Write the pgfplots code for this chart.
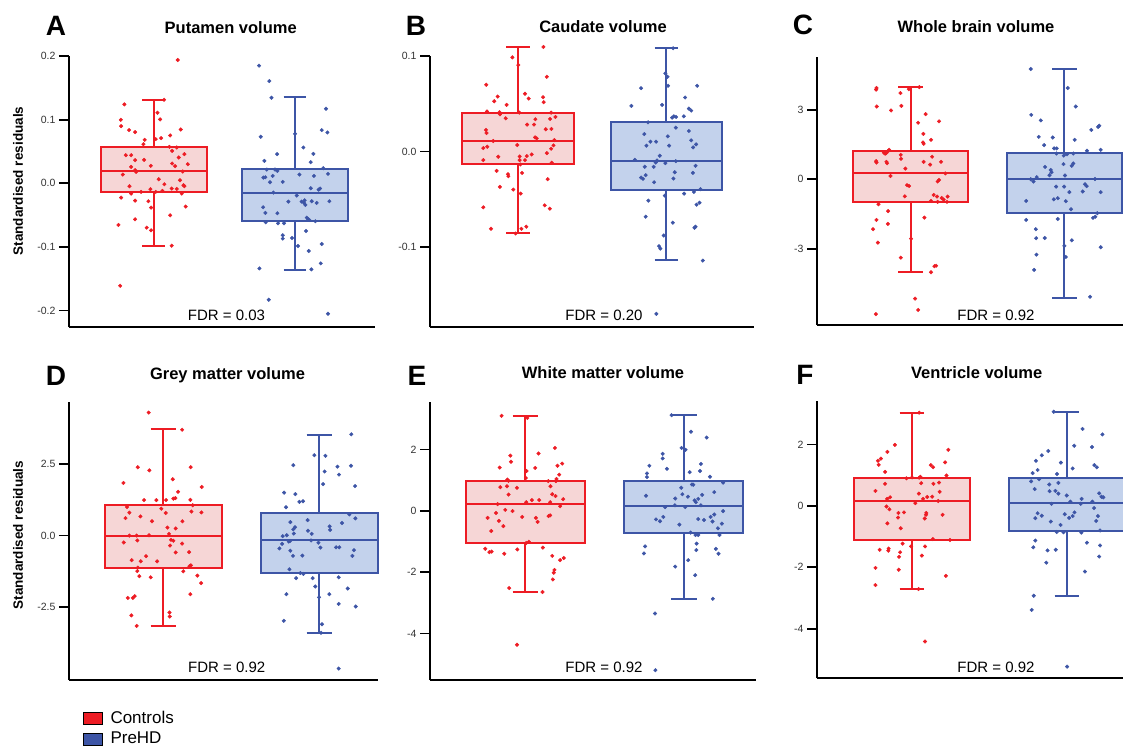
\documentclass[border=0pt]{standalone}
\usepackage{fontspec}
\setmainfont{Liberation Sans}
\usepackage{pgfplots}
\pgfplotsset{compat=1.18}
\usepgfplotslibrary{statistics}

\definecolor{cred}{RGB}{237,28,36}
\definecolor{credfill}{RGB}{246,214,214}
\definecolor{cblue}{RGB}{61,85,166}
\definecolor{cbluefill}{RGB}{195,210,236}

\pgfplotsset{
  panel/.style={scale only axis, anchor=south west,
    axis x line=bottom, axis y line=left,
    axis line style={-, line width=1.8pt, black},
    xtick=\empty, tick align=outside, major tick length=10pt,
    tick style={line width=1.8pt, black},
    yticklabel style={font=\fontsize{10.5}{12}\selectfont, text=black!80},
    clip=false, boxplot/draw direction=y,
    boxplot/box extend=0.75, boxplot/whisker extend=0.16,
    boxplot/every median/.style={line width=2pt}},
  rbox/.style={draw=cred, fill=credfill, line width=2pt},
  bbox/.style={draw=cblue, fill=cbluefill, line width=2pt},
  rpts/.style={only marks, mark=*, mark size=1.8pt, color=cred},
  bpts/.style={only marks, mark=*, mark size=1.8pt, color=cblue},
}
\newcommand{\ttl}{\fontsize{16.5}{19}\selectfont\bfseries}
\newcommand{\lbl}{\fontsize{28}{32}\selectfont\bfseries}
\newcommand{\fdr}{\fontsize{15}{18}\selectfont}

\begin{document}
\begin{tikzpicture}
\useasboundingbox (0pt,0pt) rectangle (1123pt,-751pt);

% ---------- A: putamen
\begin{axis}[panel, at={(69pt,-327pt)}, width=306pt, height=271pt,
  xmin=0.40, xmax=2.566, ymin=-0.226, ymax=0.2,
  ytick={-0.2,-0.1,0,0.1,0.2}, yticklabels={-0.2,-0.1,0.0,0.1,0.2}]
\addplot[rbox, boxplot prepared={draw position=1, lower whisker=-0.099, lower quartile=-0.014, median=0.019, upper quartile=0.057, upper whisker=0.131}] coordinates {};
\addplot[bbox, boxplot prepared={draw position=2, lower whisker=-0.137, lower quartile=-0.060, median=-0.016, upper quartile=0.0216, upper whisker=0.136}] coordinates {};
\addplot[rpts] coordinates {
(1.170,0.1937) (0.792,0.1239) (0.767,0.0997) (0.769,0.0898) (0.825,0.0835) (0.868,0.0803)
(1.073,0.1312) (1.026,0.1108) (1.045,0.1003) (1.191,0.0845) (1.116,0.0751) (1.052,0.0709)
(1.014,0.0693) (0.936,0.0682) (0.927,0.0614) (0.802,0.0441) (0.840,0.0441) (0.932,0.0367)
(0.868,0.0362) (0.979,0.0273) (0.840,0.0257) (0.868,0.0205) (0.875,0.0178) (0.781,0.0136)
(1.111,0.0572) (1.163,0.0562) (1.130,0.0509) (1.217,0.0457) (1.177,0.0404) (1.241,0.0299)
(1.130,0.0310) (1.151,0.0268) (1.205,0.0184) (1.035,0.0063) (1.186,0.0047) (1.075,-0.0016)
(0.828,-0.0047) (1.210,-0.0031) (1.217,-0.0047) (1.127,-0.0084) (1.163,-0.0089) (0.976,-0.0094)
(1.014,-0.0136) (1.061,-0.0121) (0.910,-0.0136) (0.840,-0.0163) (1.198,-0.0163) (0.769,-0.0226)
(0.868,-0.0273) (0.962,-0.0283) (1.226,-0.0367) (0.981,-0.0383) (1.116,-0.0504) (0.868,-0.0567)
(0.750,-0.0656) (0.950,-0.0698) (0.981,-0.0740) (1.127,-0.0982) (0.762,-0.1612)};
\addplot[bpts] coordinates {
(1.745,0.1848) (1.818,0.1606) (1.833,0.1344) (2.219,0.1171) (2.189,0.0835) (2.229,0.0798)
(1.757,0.0730) (2.000,0.0777) (2.059,0.0562) (2.130,0.0462) (1.873,0.0457) (1.783,0.0352)
(2.111,0.0331) (2.200,0.0236) (1.800,0.0215) (1.858,0.0215) (1.875,0.0194) (2.031,0.0136)
(2.134,0.0115) (2.233,0.0147) (1.776,0.0089) (1.790,0.0094) (1.842,0.0115) (1.823,0.0016)
(1.913,0.0021) (2.177,-0.0084) (2.167,-0.0100) (2.111,-0.0079) (1.847,-0.0147) (2.012,-0.0194)
(1.953,-0.0289) (2.047,-0.0289) (2.064,-0.0310) (2.073,-0.0341) (2.068,-0.0268) (2.118,-0.0283)
(2.153,-0.0310) (2.243,-0.0283) (1.774,-0.0378) (1.790,-0.0467) (1.875,-0.0472) (2.094,-0.0567)
(2.083,-0.0541) (2.101,-0.0577) (2.144,-0.0598) (1.792,-0.0614) (1.880,-0.0630) (1.922,-0.0630)
(2.078,-0.0751) (1.913,-0.0819) (1.913,-0.0871) (1.979,-0.0861) (2.021,-0.0987) (2.097,-0.1066)
(2.189,-0.0955) (1.748,-0.1339) (2.116,-0.1354) (2.182,-0.1260) (1.814,-0.1832) (2.233,-0.2052)};
\end{axis}

% ---------- B: caudate
\begin{axis}[panel, at={(430pt,-327pt)}, width=324pt, height=271pt,
  xmin=0.407, xmax=2.59, ymin=-0.184, ymax=0.1,
  ytick={-0.1,0,0.1}, yticklabels={-0.1,0.0,0.1}]
\addplot[rbox, boxplot prepared={draw position=1, lower whisker=-0.0856, lower quartile=-0.0137, median=0.0105, upper quartile=0.0404, upper whisker=0.109}] coordinates {};
\addplot[bbox, boxplot prepared={draw position=2, lower whisker=-0.114, lower quartile=-0.0407, median=-0.0098, upper quartile=0.0312, upper whisker=0.108}] coordinates {};
\addplot[rpts] coordinates {
(1.171,0.1095) (0.962,0.0986) (1.002,0.0905) (1.194,0.0782) (0.786,0.0698) (1.047,0.0604)
(0.863,0.0575) (1.072,0.0554) (1.169,0.0568) (0.840,0.0526) (1.173,0.0516) (0.923,0.0488)
(0.791,0.0418) (0.876,0.0411) (0.878,0.0389) (1.009,0.0407) (1.223,0.0407) (0.917,0.0347)
(1.252,0.0361) (1.216,0.0340) (1.117,0.0337) (1.061,0.0281) (1.108,0.0281) (1.187,0.0232)
(1.225,0.0235) (0.784,0.0225) (0.788,0.0193) (1.115,0.0147) (1.126,0.0137) (0.833,0.0109)
(1.245,0.0119) (0.995,0.0067) (1.239,0.0063) (0.793,0.0049) (0.766,0.0035) (1.223,0.0028)
(1.194,-0.0018) (1.092,-0.0032) (0.867,-0.0056) (1.011,-0.0053) (1.059,-0.0049) (1.011,-0.0091)
(0.766,-0.0091) (1.047,-0.0091) (1.227,-0.0119) (1.016,-0.0137) (0.856,-0.0204) (1.027,-0.0225)
(0.932,-0.0239) (0.935,-0.0260) (1.200,-0.0291) (0.878,-0.0372) (0.968,-0.0400) (1.018,-0.0442)
(1.180,-0.0565) (1.214,-0.0600) (0.766,-0.0586) (0.818,-0.0811) (0.984,-0.0860) (1.023,-0.0811)
(1.056,-0.0789)};
\addplot[bpts] coordinates {
(2.045,0.1081) (1.993,0.0818) (2.007,0.0782) (2.011,0.0688) (1.829,0.0663) (2.207,0.0688)
(2.126,0.0565) (1.971,0.0488) (1.764,0.0477) (2.151,0.0449) (2.167,0.0428) (2.117,0.0368)
(2.038,0.0354) (2.050,0.0368) (2.065,0.0361) (1.876,0.0305) (2.063,0.0249) (2.151,0.0214)
(1.851,0.0182) (2.009,0.0158) (2.167,0.0116) (1.892,0.0102) (1.930,0.0102) (2.200,0.0074)
(1.865,0.0060) (2.018,0.0060) (2.180,0.0042) (1.955,-0.0046) (1.788,-0.0088) (1.937,-0.0095)
(1.928,-0.0116) (2.063,-0.0102) (1.854,-0.0161) (1.993,-0.0123) (1.914,-0.0161) (2.196,-0.0151)
(2.056,-0.0218) (2.178,-0.0225) (1.860,-0.0249) (1.829,-0.0274) (1.842,-0.0288) (2.047,-0.0284)
(1.917,-0.0323) (2.230,-0.0396) (2.185,-0.0425) (2.119,-0.0442) (1.989,-0.0463) (1.878,-0.0516)
(2.223,-0.0537) (2.203,-0.0558) (1.860,-0.0684) (2.043,-0.0747) (2.196,-0.0789) (2.189,-0.0800)
(1.982,-0.0881) (1.950,-0.0993) (1.959,-0.1018) (2.245,-0.1144) (1.932,-0.1702)};
\end{axis}

% ---------- C: whole brain
\begin{axis}[panel, at={(817pt,-325pt)}, width=333pt, height=268pt,
  xmin=0.39, xmax=2.557, ymin=-6.30, ymax=5.28,
  ytick={-3,0,3}, yticklabels={-3,0,3}]
\addplot[rbox, boxplot prepared={draw position=1, lower whisker=-4.02, lower quartile=-0.98, median=0.26, upper quartile=1.24, upper whisker=3.98}] coordinates {};
\addplot[bbox, boxplot prepared={draw position=2, lower whisker=-5.12, lower quartile=-1.47, median=0.03, upper quartile=1.15, upper whisker=4.76}] coordinates {};
\addplot[rpts] coordinates {
(0.777,3.94) (0.775,3.87) (1.056,3.98) (0.987,3.89) (0.933,3.72) (0.779,3.14) (0.939,3.17)
(0.872,2.97) (1.097,2.81) (1.184,2.50) (1.048,2.44) (1.082,1.96) (1.080,1.59) (1.084,1.53)
(1.132,1.70) (0.825,1.15) (0.840,1.13) (0.851,1.20) (0.859,1.27) (0.833,1.10) (0.935,1.05)
(0.937,0.88) (1.139,0.97) (0.775,0.78) (0.777,0.72) (0.842,0.75) (0.846,0.69) (1.084,0.75)
(1.126,0.63) (1.197,0.75) (0.965,0.46) (1.225,0.25) (0.868,0.14) (1.184,-0.03) (1.175,-0.10)
(0.976,-0.26) (0.989,-0.29) (1.149,-0.68) (0.961,-0.74) (1.171,-0.75) (1.201,-0.81) (1.240,-0.75)
(1.214,-0.88) (1.132,-0.94) (1.175,-0.98) (1.236,-0.98) (0.790,-1.08) (0.853,-1.38) (1.089,-1.66)
(0.777,-1.76) (0.851,-1.93) (0.755,-2.16) (1.002,-2.57) (0.786,-2.74) (0.935,-3.39) (1.154,-3.76)
(1.165,-3.74) (1.132,-4.02) (1.028,-5.16) (1.048,-5.65) (0.773,-5.83)};
\addplot[bpts] coordinates {
(1.781,4.76) (2.022,3.94) (2.074,3.14) (1.784,2.78) (1.846,2.54) (2.175,2.13) (2.227,2.31)
(2.219,2.26) (1.833,1.83) (1.924,1.80) (2.067,1.70) (1.868,1.47) (1.933,1.33) (1.950,1.33)
(2.236,1.27) (1.948,1.11) (1.996,1.02) (2.017,1.08) (2.058,1.11) (2.147,1.23) (2.058,0.68)
(1.994,0.65) (2.048,0.58) (1.874,0.53) (1.911,0.40) (1.916,0.30) (1.903,0.17) (2.004,0.16)
(1.820,0.09) (1.781,0.00) (1.799,-0.10) (2.199,0.01) (2.134,-0.22) (2.145,-0.30) (1.946,-0.32)
(1.998,-0.32) (2.032,-0.56) (2.119,-0.53) (2.236,-0.56) (1.931,-0.87) (1.957,-0.82) (2.009,-0.95)
(1.751,-0.94) (2.043,-1.30) (2.214,-1.47) (2.201,-1.62) (2.186,-1.67) (1.751,-1.76) (1.957,-1.72)
(1.814,-2.16) (1.816,-2.55) (1.872,-2.54) (2.048,-2.64) (2.000,-2.88) (2.236,-2.94) (1.818,-3.26)
(2.009,-3.36) (1.803,-3.92) (2.167,-5.08)};
\end{axis}

% ---------- D: grey matter
\begin{axis}[panel, at={(69pt,-680pt)}, width=309pt, height=278pt,
  xmin=0.397, xmax=2.378, ymin=-5.05, ymax=4.67,
  ytick={-2.5,0,2.5}, yticklabels={-2.5,0.0,2.5},
  legend style={at={(rel axis cs:0.045,-0.105)}, anchor=north west, draw=none, fill=none,
    inner sep=0pt, font=\fontsize{17}{20}\selectfont, row sep=3pt,
    /tikz/every odd column/.append style={column sep=6pt}},
  legend cell align=left,
  legend image code/.code={\fill[#1] (0pt,-6pt) rectangle (19pt,6pt);}]
\addlegendimage{fill=cred}
\addlegendentry{Controls}
\addlegendimage{fill=cblue}
\addlegendentry{PreHD}
\addplot[rbox, boxplot prepared={draw position=1, lower whisker=-3.15, lower quartile=-1.12, median=0.0, upper quartile=1.06, upper whisker=3.71}] coordinates {};
\addplot[bbox, boxplot prepared={draw position=2, lower whisker=-3.40, lower quartile=-1.31, median=-0.165, upper quartile=0.80, upper whisker=3.53}] coordinates {};
\addplot[rpts] coordinates {
(0.908,4.30) (1.122,3.70) (0.838,2.39) (1.177,2.39) (0.912,2.28) (1.062,1.97) (0.746,1.84)
(1.248,1.70) (1.096,1.53) (0.878,1.24) (0.957,1.24) (1.019,1.24) (1.066,1.29) (1.079,1.31)
(1.175,1.25) (1.190,1.06) (0.769,1.00) (0.989,0.94) (0.784,0.80) (1.017,0.79) (1.182,0.84)
(1.246,0.81) (0.759,0.61) (0.855,0.67) (0.929,0.50) (1.124,0.50) (1.028,0.28) (1.081,0.25)
(0.784,0.00) (0.831,0.00) (0.910,0.01) (1.038,0.06) (0.748,-0.24) (0.835,-0.17) (1.051,-0.15)
(1.066,-0.18) (1.122,-0.28) (1.045,-0.35) (1.081,-0.59) (1.167,-0.58) (0.891,-0.72) (0.799,-0.86)
(0.857,-0.90) (0.962,-0.90) (1.169,-1.07) (1.179,-1.04) (0.838,-1.12) (0.835,-1.24) (1.130,-1.25)
(0.848,-1.42) (0.921,-1.46) (1.220,-1.40) (1.244,-1.66) (1.175,-2.05) (0.774,-2.18) (0.806,-2.18)
(0.818,-2.12) (0.797,-2.79) (1.041,-2.69) (1.043,-2.83) (0.831,-3.16)};
\addplot[bpts] coordinates {
(2.207,3.54) (1.970,2.81) (2.041,2.79) (1.835,2.46) (2.205,2.44) (2.118,2.41) (2.036,2.24)
(2.128,2.13) (2.026,1.80) (2.231,1.73) (1.776,1.50) (1.848,1.45) (1.874,1.18) (1.897,1.20)
(1.788,0.99) (2.194,0.74) (2.147,0.44) (1.927,0.54) (2.233,0.60) (1.816,0.47) (1.835,0.22)
(1.846,0.29) (2.068,0.32) (2.071,0.20) (1.929,0.17) (1.953,0.06) (1.838,0.07) (1.793,0.01)
(1.767,-0.02) (1.814,-0.19) (1.806,-0.21) (1.949,-0.17) (1.996,-0.25) (1.763,-0.29) (1.746,-0.45)
(2.009,-0.42) (2.109,-0.41) (2.130,-0.41) (2.224,-0.51) (1.816,-0.53) (1.833,-0.71) (1.893,-0.70)
(2.214,-0.71) (1.810,-1.18) (1.880,-1.31) (1.900,-1.34) (1.853,-1.49) (1.959,-1.49) (2.126,-1.46)
(1.976,-1.78) (2.184,-1.85) (1.791,-2.05) (2.000,-2.16) (2.066,-2.05) (2.126,-2.39) (2.235,-2.48)
(1.774,-2.98) (2.019,-3.10) (2.013,-3.40) (2.126,-4.65)};
\end{axis}

% ---------- E: white matter
\begin{axis}[panel, at={(430pt,-680pt)}, width=326pt, height=278pt,
  xmin=0.40, xmax=2.454, ymin=-5.52, ymax=3.55,
  ytick={-4,-2,0,2}, yticklabels={-4,-2,0,2}]
\addplot[rbox, boxplot prepared={draw position=1, lower whisker=-2.65, lower quartile=-1.04, median=0.217, upper quartile=0.967, upper whisker=3.09}] coordinates {};
\addplot[bbox, boxplot prepared={draw position=2, lower whisker=-2.87, lower quartile=-0.74, median=0.163, upper quartile=0.967, upper whisker=3.12}] coordinates {};
\addplot[rpts] coordinates {
(0.851,3.10) (1.013,3.03) (1.187,2.05) (1.084,1.87) (0.906,1.80) (0.910,1.60) (1.233,1.54)
(1.203,1.47) (0.839,1.41) (1.063,1.40) (1.008,1.30) (1.214,1.18) (0.887,1.02) (0.895,0.98)
(1.004,1.07) (1.197,1.04) (1.193,0.97) (1.145,0.97) (1.159,0.80) (0.885,0.80) (0.843,0.77)
(0.948,0.75) (0.895,0.53) (1.170,0.54) (1.191,0.48) (1.239,0.38) (1.042,0.35) (1.088,0.35)
(1.006,0.28) (1.157,0.28) (0.826,0.22) (1.220,0.15) (0.874,0.03) (0.920,-0.01) (0.816,-0.07)
(1.157,-0.15) (1.147,-0.17) (0.981,-0.20) (0.763,-0.23) (1.067,-0.23) (1.078,-0.36) (0.834,-0.33)
(0.862,-0.50) (0.786,-0.66) (1.023,-1.01) (1.006,-1.05) (1.111,-1.20) (0.748,-1.24) (0.788,-1.33)
(0.774,-1.35) (0.950,-1.26) (0.868,-1.40) (1.170,-1.47) (1.243,-1.54) (1.220,-1.61) (1.184,-1.93)
(1.180,-2.02) (1.174,-2.24) (0.899,-2.52) (1.109,-2.65) (0.948,-4.37)};
\addplot[bpts] coordinates {
(1.922,3.12) (2.044,2.58) (2.143,2.39) (1.985,2.05) (2.010,1.99) (1.866,1.86) (1.866,1.71)
(2.107,1.53) (1.782,1.47) (1.893,1.37) (2.101,1.30) (2.036,1.26) (1.767,1.22) (1.767,1.10)
(2.164,1.11) (2.247,0.92) (2.050,0.86) (2.059,0.85) (1.983,0.75) (2.191,0.61) (1.761,0.49)
(1.990,0.54) (2.025,0.46) (1.945,0.40) (2.115,0.52) (2.090,0.39) (2.067,0.34) (2.075,0.28)
(1.943,0.18) (2.107,0.18) (2.008,0.12) (1.881,0.12) (2.247,-0.01) (2.191,-0.12) (1.870,-0.20)
(2.168,-0.20) (1.824,-0.28) (1.849,-0.34) (2.090,-0.27) (2.126,-0.30) (2.180,-0.35) (2.239,-0.42)
(1.971,-0.45) (2.214,-0.57) (2.042,-0.71) (2.224,-0.79) (2.073,-0.79) (2.090,-0.79) (2.080,-1.07)
(1.755,-1.16) (2.201,-1.24) (2.078,-1.28) (2.218,-1.40) (1.748,-1.39) (2.027,-1.61) (1.945,-1.82)
(2.071,-2.10) (2.182,-2.87) (1.818,-3.35) (1.820,-5.20)};
\end{axis}

% ---------- F: ventricle
\begin{axis}[panel, at={(817pt,-678.3pt)}, width=333pt, height=277.6pt,
  xmin=0.387, xmax=2.535, ymin=-5.62, ymax=3.43,
  ytick={-4,-2,0,2}, yticklabels={-4,-2,0,2}]
\addplot[rbox, boxplot prepared={draw position=1, lower whisker=-2.71, lower quartile=-1.11, median=0.163, upper quartile=0.924, upper whisker=3.04}] coordinates {};
\addplot[bbox, boxplot prepared={draw position=2, lower whisker=-2.93, lower quartile=-0.815, median=0.087, upper quartile=0.924, upper whisker=3.07}] coordinates {};
\addplot[rpts] coordinates {
(1.046,3.04) (0.889,1.99) (0.841,1.76) (1.234,1.83) (0.799,1.54) (0.780,1.47) (0.785,1.34)
(1.213,1.42) (1.121,1.33) (1.136,1.26) (0.826,1.11) (0.964,0.90) (1.000,0.93) (1.046,0.92)
(1.054,0.95) (1.222,0.99) (0.764,0.49) (0.826,0.72) (1.059,0.74) (1.138,0.72) (1.174,0.76)
(1.178,0.46) (1.044,0.40) (1.130,0.30) (1.098,0.29) (1.071,0.23) (0.839,0.23) (0.858,0.28)
(1.169,0.16) (1.021,0.09) (0.835,-0.02) (0.854,-0.11) (0.948,-0.21) (0.912,-0.23) (1.092,-0.23)
(1.090,-0.29) (1.197,-0.29) (0.910,-0.38) (1.082,-0.41) (0.841,-0.57) (0.927,-0.73) (1.134,-1.08)
(1.245,-1.11) (0.939,-1.23) (0.994,-1.32) (1.084,-1.32) (0.791,-1.43) (0.849,-1.39) (0.847,-1.46)
(0.923,-1.51) (0.916,-1.66) (1.063,-1.62) (0.764,-2.02) (0.914,-2.08) (1.218,-2.28) (0.764,-2.58)
(1.042,-2.71) (1.084,-4.42)};
\addplot[bpts] coordinates {
(1.914,3.07) (2.100,2.51) (2.228,2.33) (2.046,1.96) (2.161,1.92) (1.879,1.79) (1.837,1.65)
(1.799,1.47) (1.960,1.41) (2.176,1.33) (2.192,1.26) (1.810,1.17) (2.036,1.22) (1.778,1.07)
(1.935,1.04) (1.820,0.87) (1.768,0.80) (1.885,0.70) (1.944,0.75) (1.791,0.55) (1.887,0.48)
(1.925,0.49) (1.944,0.40) (1.998,0.34) (2.207,0.41) (2.222,0.30) (2.234,0.28) (2.094,0.23)
(2.021,0.14) (2.163,0.14) (2.088,0.07) (1.900,0.07) (2.174,-0.07) (1.810,-0.24) (1.837,-0.32)
(1.985,-0.27) (2.048,-0.21) (2.036,-0.33) (2.013,-0.39) (1.795,-0.40) (2.199,-0.33) (1.895,-0.51)
(2.188,-0.49) (1.958,-0.62) (1.933,-0.85) (1.977,-0.86) (2.092,-0.87) (2.213,-0.80) (1.795,-1.13)
(2.128,-1.20) (1.782,-1.35) (2.213,-1.29) (1.874,-1.45) (1.927,-1.43) (2.207,-1.65) (1.866,-1.85)
(2.115,-2.14) (1.785,-2.93) (1.772,-3.39) (2.000,-5.24)};
\end{axis}

% ---------- titles, panel letters, FDR labels, y labels
\node[anchor=base] at (56pt,-36pt) {\lbl A};
\node[anchor=base] at (416pt,-36pt) {\lbl B};
\node[anchor=base] at (803pt,-35pt) {\lbl C};
\node[anchor=base] at (56pt,-385pt) {\lbl D};
\node[anchor=base] at (417pt,-385pt) {\lbl E};
\node[anchor=base] at (805pt,-384pt) {\lbl F};
\node[anchor=base] at (230.7pt,-33.3pt) {\ttl Putamen volume};
\node[anchor=base] at (603pt,-32.7pt) {\ttl Caudate volume};
\node[anchor=base] at (976pt,-32.3pt) {\ttl Whole brain volume};
\node[anchor=base] at (227.5pt,-379.3pt) {\ttl Grey matter volume};
\node[anchor=base] at (603pt,-378.3pt) {\ttl White matter volume};
\node[anchor=base] at (976.7pt,-378.7pt) {\ttl Ventricle volume};
\node[anchor=base] at (226.5pt,-320.7pt) {\fdr FDR = 0.03};
\node[anchor=base] at (604pt,-320.7pt) {\fdr FDR = 0.20};
\node[anchor=base] at (996pt,-320.7pt) {\fdr FDR = 0.92};
\node[anchor=base] at (226.7pt,-672.7pt) {\fdr FDR = 0.92};
\node[anchor=base] at (604pt,-672.7pt) {\fdr FDR = 0.92};
\node[anchor=base] at (996pt,-672.7pt) {\fdr FDR = 0.92};
\node[rotate=90] at (18pt,-181pt) {\fontsize{13.5}{16}\selectfont\bfseries Standardised residuals};
\node[rotate=90] at (18pt,-535pt) {\fontsize{13.5}{16}\selectfont\bfseries Standardised residuals};
\end{tikzpicture}
\end{document}
